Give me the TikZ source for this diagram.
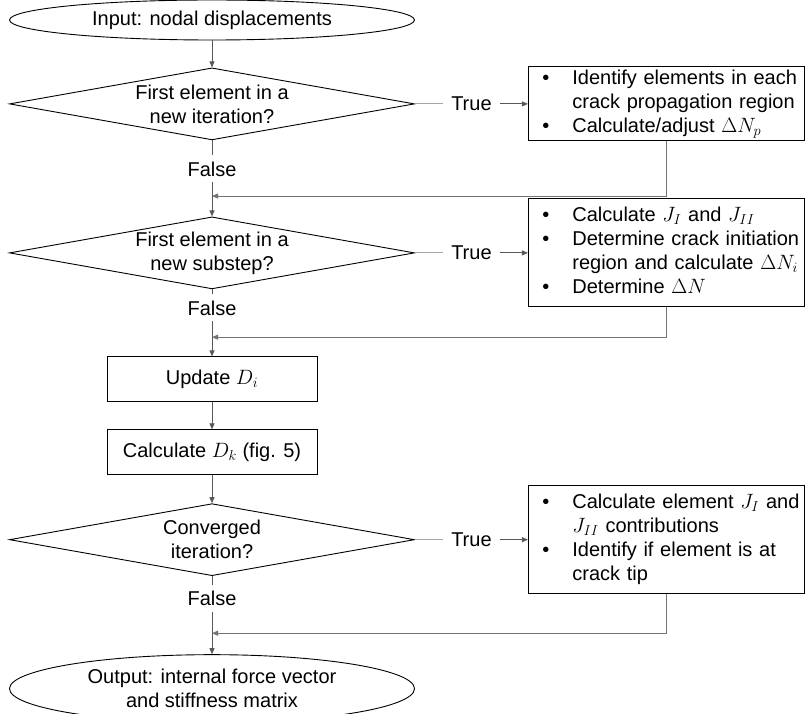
\documentclass[tikz,border=0pt]{standalone}
\usepackage{amsmath}
\usepackage{fontspec}
\setmainfont{Liberation Sans}
\usetikzlibrary{arrows.meta,positioning,shapes.geometric,calc}
\newcommand{\bul}{\makebox[30pt][l]{\textbullet}}
\newcommand{\blist}[1]{\begin{tabular}{@{\hspace{14pt}}l@{}l@{}}#1\end{tabular}}

\begin{document}
\begin{tikzpicture}[
  font=\fontsize{20}{24}\selectfont, >={Triangle[length=6pt,width=5pt]},
  term/.style={ellipse, draw, line width=0.9pt, minimum width=405pt, align=center, inner sep=0pt},
  dec/.style={diamond, draw, line width=0.9pt, aspect=5.5, inner sep=0pt, minimum width=405pt, minimum height=72pt, align=center},
  proc/.style={draw, line width=0.9pt, minimum width=210pt, minimum height=45pt, align=center},
  note/.style={draw, line width=0.9pt, text width=276pt, inner xsep=0pt, inner ysep=1pt, align=left},
  lab/.style={inner xsep=8pt, inner ysep=6pt},
  line/.style={draw=black!65, line width=0.8pt},
  flow/.style={line, ->},
  stub/.style={draw=black!35, line width=0.8pt},
  back/.style={->, draw=black!55, line width=0.8pt}]
\useasboundingbox (0,0) rectangle (805pt,-714pt);
% main column
\node[term, minimum height=40pt] (in) at (212pt,-20pt) {Input: nodal displacements};
\node[dec, below=27pt of in] (d1) {First element in a\\new iteration?};
\node[lab, below=15pt of d1] (f1) {False};
\node[dec, below=34pt of f1] (d2) {First element in a\\new substep?};
\node[lab, below=5pt of d2] (f2) {False};
\node[proc, below=35pt of f2] (upd) {Update $D_i$};
\node[proc, below=27pt of upd] (calc) {Calculate $D_k$ (fig. 5)};
\node[dec, below=28pt of calc] (d3) {Converged\\iteration?};
\node[lab, below=9pt of d3] (f3) {False};
\node[term, minimum height=68pt, below=42pt of f3] (out) {Output: internal force vector\\and stiffness matrix};
% side boxes
\node[note, minimum height=73pt, right=113pt of d1] (n1) {\blist{\bul & Identify elements in each\\ & crack propagation region\\ \bul & Calculate/adjust $\Delta N_p$}};
\node[note, minimum height=108pt, right=113pt of d2] (n2) {\blist{\bul & Calculate $J_I$ and $J_{II}$\\ \bul & Determine crack initiation\\ & region and calculate $\Delta N_i$\\ \bul & Determine $\Delta N$}};
\node[note, minimum height=108pt, right=113pt of d3] (n3) {\blist{\bul & Calculate element $J_I$ and\\ & $J_{II}$ contributions\\ \bul & Identify if element is at\\ & crack tip}};
\node[lab] (t1) at ($(d1.east)!0.5!(n1.west)$) {True};
\node[lab] (t2) at ($(d2.east)!0.5!(n2.west)$) {True};
\node[lab] (t3) at ($(d3.east)!0.5!(n3.west)$) {True};
\coordinate (m1) at ($(f1.south)!0.4!(d2.north)$);
\coordinate (m2) at ($(f2.south)!0.45!(upd.north)$);
\coordinate (m3) at ($(f3.south)!0.5!(out.north)$);
% connectors
\draw[flow] (in) -- (d1); \draw[line] (d1) -- (f1); \draw[flow] (f1) -- (d2);
\draw[line] (d2) -- (f2); \draw[flow] (f2) -- (upd); \draw[flow] (upd) -- (calc);
\draw[flow] (calc) -- (d3); \draw[line] (d3) -- (f3); \draw[flow] (f3) -- (out);
\draw[stub] (d1.east) -- (t1.west); \draw[flow] (t1.east) -- (n1.west);
\draw[stub] (d2.east) -- (t2.west); \draw[flow] (t2.east) -- (n2.west);
\draw[stub] (d3.east) -- (t3.west); \draw[flow] (t3.east) -- (n3.west);
\draw[back] (n1.south) |- (m1);
\draw[back] (n2.south) |- (m2);
\draw[back] (n3.south) |- (m3);
\end{tikzpicture}
\end{document}
